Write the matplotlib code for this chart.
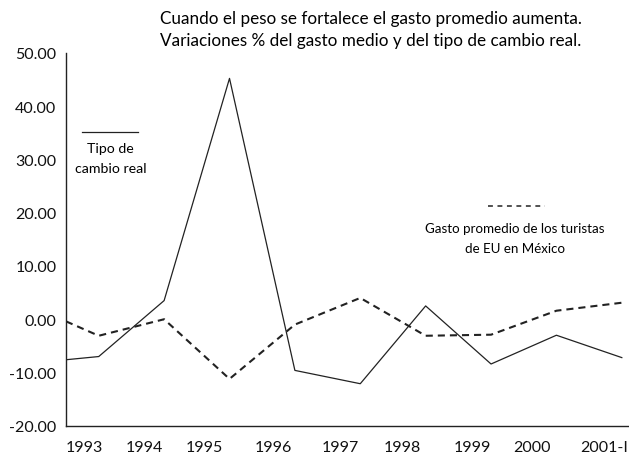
import matplotlib
matplotlib.use("Agg")
import matplotlib.pyplot as plt

# series (% variation)
x_pts = [0.5, 1, 2, 3, 4, 5, 6, 7, 8, 9]
tipo_cambio = [-7.6, -7.0, 3.5, 45.2, -9.6, -12.1, 2.5, -8.4, -3.0, -7.2]
gasto_prom = [-0.4, -3.1, 0.0, -11.2, -1.0, 4.0, -3.1, -2.9, 1.6, 3.1]

year_labels = ["1993", "1994", "1995", "1996", "1997", "1998", "1999", "2000", "2001-I"]
year_pos = [0.78, 1.70, 2.61, 3.67, 4.70, 5.64, 6.71, 7.63, 8.73]
y_ticks = [-20, -10, 0, 10, 20, 30, 40, 50]

plt.rcParams["font.family"] = ["Lato", "DejaVu Sans"]

fig = plt.figure(figsize=(6.29, 4.56), dpi=100)
ax = fig.add_axes([0.105, 0.064, 0.895, 0.818])

ax.plot(x_pts, tipo_cambio, color="#222222", lw=0.9)
ax.plot(x_pts, gasto_prom, color="#222222", lw=1.5, dashes=(3.4, 2.4))

ax.set_xlim(0.5, 9.11)
ax.set_ylim(-20, 50)
ax.set_yticks(y_ticks)
ax.set_yticklabels([f"{v:.2f}" for v in y_ticks], fontsize=11.5)
ax.set_xticks(year_pos)
ax.set_xticklabels(year_labels, fontsize=11.5)
ax.tick_params(axis="both", length=0, colors="#111111")
ax.tick_params(axis="y", pad=7)
ax.tick_params(axis="x", pad=10)

for side in ("top", "right"):
    ax.spines[side].set_visible(False)
for side in ("left", "bottom"):
    ax.spines[side].set_color("#222222")
    ax.spines[side].set_linewidth(1.0)

# inline legend keys
ax.plot([0.75, 1.6], [35.1, 35.1], color="#222222", lw=0.9, clip_on=False)
ax.text(1.18, 33.2, "Tipo de\ncambio real", ha="center", va="top",
        fontsize=10.2, linespacing=1.75)

ax.plot([6.95, 7.82], [21.3, 21.3], color="#222222", lw=1.1, dashes=(3.2, 3.0))
ax.text(7.37, 18.2, "Gasto promedio de los turistas\nde EU en México", ha="center",
        va="top", fontsize=9.6, linespacing=1.75)

fig.text(0.589, 0.976, "Cuando el peso se fortalece el gasto promedio aumenta.\n"
         "Variaciones % del gasto medio y del tipo de cambio real.",
         ha="center", va="top", fontsize=12.3, linespacing=1.45)

fig.savefig("out.png", dpi=100)
